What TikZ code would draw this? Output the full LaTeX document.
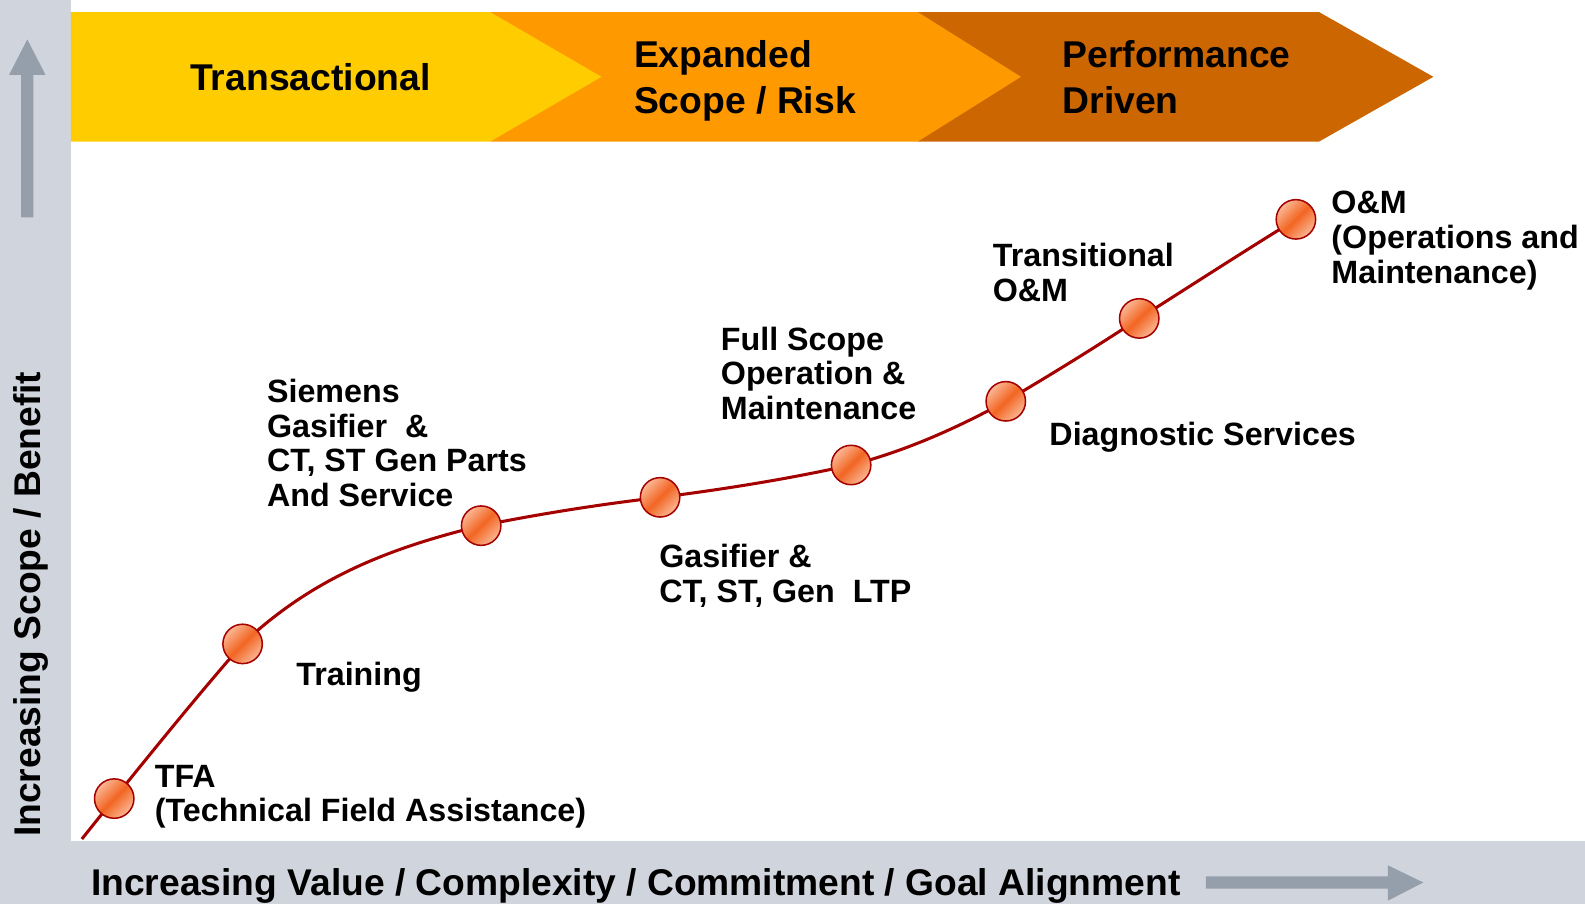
\documentclass[tikz,border=0pt]{standalone}
\usepackage{fontspec}
\setmainfont{Liberation Sans}

\definecolor{bandyellow}{HTML}{FFCC00}
\definecolor{bandorange}{HTML}{FF9900}
\definecolor{banddark}{HTML}{CC6600}
\definecolor{axisgray}{HTML}{D0D4DC}
\definecolor{arrowgray}{HTML}{959FAB}
\definecolor{curvered}{HTML}{A50000}
\definecolor{balllight}{HTML}{FBB896}
\definecolor{balldark}{HTML}{F26522}

\tikzset{
	marker/.style={circle, draw=curvered, line width=1.5pt, minimum size=39pt, inner sep=0pt, top color=balllight, bottom color=balllight, middle color=balldark, shading angle=45},
	milestone/.style={anchor=base west, align=left, inner sep=0pt, font=\fontsize{31.9}{34.3}\selectfont\bfseries},
	phase/.style={anchor=base west, align=left, inner sep=0pt, font=\fontsize{36.9}{45}\selectfont\bfseries},
	axislabel/.style={anchor=base west, inner sep=0pt, font=\fontsize{36.8}{44}\selectfont\bfseries},
}

\begin{document}
\begin{tikzpicture}[x=1pt, y=-1pt]

	\useasboundingbox (0,0) rectangle (1568,894);

	% Axes
	\fill[axisgray] (0,0) rectangle (70,832);
	\fill[axisgray] (0,832) rectangle (1568,894);
	\fill[arrowgray] (21,215) -- (21,74) -- (9,74) -- (27,39) -- (45,74) -- (33,74) -- (33,215) -- cycle;
	\fill[arrowgray] (1193,867) -- (1373,867) -- (1373,856) -- (1408,873) -- (1373,891) -- (1373,879) -- (1193,879) -- cycle;
	\draw (40,828) node[axislabel, rotate=90] (yaxis) {Increasing Scope / Benefit};
	\draw (90,886) node[axislabel] (xaxis) {Increasing Value / Complexity / Commitment / Goal Alignment};

	% Phases
	\fill[banddark] (908,12) -- (1305,12) -- (1418,76) -- (1305,140) -- (908,140) -- cycle;
	\fill[bandorange] (485,12) -- (908,12) -- (1010,76) -- (908,140) -- (485,140) -- cycle;
	\fill[bandyellow] (70,12) -- (485,12) -- (595,76) -- (485,140) -- (70,140) -- cycle;
	\draw (188,90) node[phase] (transactional) {Transactional};
	\draw (627,112) node[phase] (expanded) {Expanded\\Scope / Risk};
	\draw (1051,112) node[phase] (performance) {Performance\\Driven};

	% Path
	\coordinate (start) at (81,830);
	\coordinate (p1) at (113,790);
	\coordinate (p2) at (240,637);
	\coordinate (p3) at (476,520);
	\coordinate (p4) at (653,492);
	\coordinate (p5) at (842,460);
	\coordinate (p6) at (995,397);
	\coordinate (p7) at (1127,315);
	\coordinate (p8) at (1282,217);
	\draw[curvered, line width=3pt] (start) -- (p1)
		.. controls +(42,-52) and +(-42,48) .. (p2)
		.. controls +(70,-66) and +(-90,22) .. (p3)
		.. controls +(60,-12) and +(-60,7) .. (p4)
		.. controls +(63,-8) and +(-63,14) .. (p5)
		.. controls +(51,-13) and +(-51,28) .. (p6)
		.. controls +(44,-26) and +(-44,29) .. (p7)
		.. controls +(52,-33) and +(-52,32) .. (p8);

	\node[marker] (tfa) at (p1) {};
	\node[marker] (training) at (p2) {};
	\node[marker] (parts) at (p3) {};
	\node[marker] (ltp) at (p4) {};
	\node[marker] (fullscope) at (p5) {};
	\node[marker] (diagnostic) at (p6) {};
	\node[marker] (transitional) at (p7) {};
	\node[marker] (om) at (p8) {};

	% Milestones
	\draw (153,813) node[milestone] (tfatext) {TFA\\(Technical Field Assistance)};
	\draw (293,678) node[milestone] (trainingtext) {Training};
	\draw (264,501) node[milestone] (partstext) {Siemens\\Gasifier\ \ \&\\CT, ST Gen Parts\\And Service};
	\draw (652,596) node[milestone] (ltptext) {Gasifier \&\\CT, ST, Gen\ \ LTP};
	\draw (713,415) node[milestone] (fullscopetext) {Full Scope\\Operation \&\\Maintenance};
	\draw (1038,441) node[milestone] (diagnostictext) {Diagnostic Services};
	\draw (982,298) node[milestone] (transitionaltext) {Transitional\\O\&M};
	\draw (1317,280) node[milestone] (omtext) {O\&M\\(Operations and\\Maintenance)};

\end{tikzpicture}
\end{document}
